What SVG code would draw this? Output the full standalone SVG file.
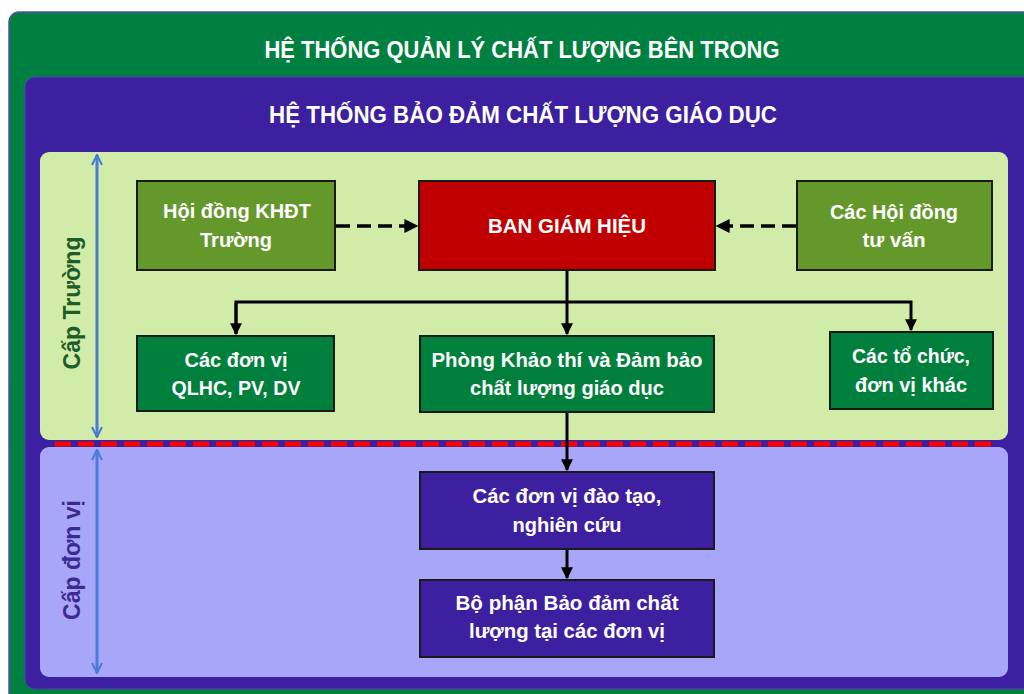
<svg xmlns="http://www.w3.org/2000/svg" width="1024" height="694" viewBox="0 0 1024 694">
<defs>
<style>
.t{font-family:"Liberation Sans",Arial,sans-serif;font-weight:bold;fill:#fff;text-anchor:middle}
.n{font-size:20px}
.h{font-size:23px}
.node{stroke:#1a1a1a;stroke-width:2}
.olive{fill:#64982a}
.red{fill:#c00000}
.dg{fill:#00803c}
.pu{fill:#3c20a0}
.con{fill:none;stroke:#000;stroke-width:3}
.dash{stroke-dasharray:14 7;stroke-width:3.5}
.lvl{fill:none;stroke:#4a7cd4;stroke-width:3}
.side{font-family:"Liberation Sans",Arial,sans-serif;font-weight:bold;font-size:23px;text-anchor:middle}
</style>
<marker id="ah" viewBox="0 0 10 10" refX="9" refY="5" markerWidth="4" markerHeight="4" orient="auto" markerUnits="strokeWidth">
<path d="M0,0 L10,5 L0,10 z" fill="#000"/>
</marker>
<marker id="bh" viewBox="0 0 12 12" refX="11" refY="6" markerWidth="4" markerHeight="4" orient="auto-start-reverse" markerUnits="strokeWidth">
<path d="M1,1 L11,6 L1,11" fill="none" stroke="#4a7cd4" stroke-width="2"/>
</marker>
</defs>

<g id="frame">
<rect x="9" y="12" width="1030" height="700" rx="10" fill="#008040" stroke="#5a4ca8" stroke-width="1.5"/>
<text class="t h" x="522" y="58" textLength="515" lengthAdjust="spacingAndGlyphs">HỆ THỐNG QUẢN LÝ CHẤT LƯỢNG BÊN TRONG</text>
<rect x="25" y="77" width="1010" height="612" rx="10" fill="#3c20a0" stroke="#5040b0" stroke-width="1"/>
<text class="t h" x="523" y="123" textLength="508" lengthAdjust="spacingAndGlyphs">HỆ THỐNG BẢO ĐẢM CHẤT LƯỢNG GIÁO DỤC</text>
<rect x="40" y="152" width="968" height="288" rx="9" fill="#d0eca8"/>
<rect x="40" y="447" width="968" height="230" rx="9" fill="#a8a6f8"/>
<line x1="55" y1="444" x2="998" y2="444" stroke="#ff0000" stroke-width="5" stroke-dasharray="16 7"/>
</g>

<g id="levels">
<line class="lvl" x1="97" y1="155" x2="97" y2="437" marker-start="url(#bh)" marker-end="url(#bh)"/>
<line class="lvl" x1="97" y1="450" x2="97" y2="673" marker-start="url(#bh)" marker-end="url(#bh)"/>
<text class="side" x="0" y="0" transform="translate(80,303) rotate(-90)" fill="#1e5c28" textLength="133" lengthAdjust="spacingAndGlyphs">Cấp Trường</text>
<text class="side" x="0" y="0" transform="translate(80,560) rotate(-90)" fill="#3c2a90" textLength="120" lengthAdjust="spacingAndGlyphs">Cấp đơn vị</text>
</g>

<g id="connectors">
<line class="con dash" x1="336" y1="226" x2="417" y2="226" marker-end="url(#ah)"/>
<line class="con dash" x1="796" y1="226" x2="717" y2="226" marker-end="url(#ah)"/>
<line class="con" x1="567" y1="271" x2="567" y2="334" marker-end="url(#ah)"/>
<polyline class="con" points="236,334 236,302 911,302 911,330" marker-end="url(#ah)"/>
<line class="con" x1="236" y1="303" x2="236" y2="334" marker-end="url(#ah)"/>
<line class="con" x1="567" y1="412" x2="567" y2="470" marker-end="url(#ah)"/>
<line class="con" x1="567" y1="549" x2="567" y2="578" marker-end="url(#ah)"/>
</g>

<g id="hoidong-khdt">
<rect class="node olive" x="137" y="181" width="198" height="89"/>
<text class="t n" x="237" y="218" textLength="148" lengthAdjust="spacingAndGlyphs">Hội đồng KHĐT</text>
<text class="t n" x="236" y="247" textLength="72" lengthAdjust="spacingAndGlyphs">Trường</text>
</g>
<g id="ban-giam-hieu">
<rect class="node red" x="419" y="181" width="296" height="89"/>
<text class="t n" x="567" y="233" textLength="158" lengthAdjust="spacingAndGlyphs">BAN GIÁM HIỆU</text>
</g>
<g id="hoidong-tuvan">
<rect class="node olive" x="797" y="181" width="195" height="89"/>
<text class="t n" x="894" y="219" textLength="128" lengthAdjust="spacingAndGlyphs">Các Hội đồng</text>
<text class="t n" x="894" y="247" textLength="63" lengthAdjust="spacingAndGlyphs">tư vấn</text>
</g>
<g id="qlhc">
<rect class="node dg" x="137" y="336" width="197" height="75"/>
<text class="t n" x="236" y="367" textLength="103" lengthAdjust="spacingAndGlyphs">Các đơn vị</text>
<text class="t n" x="236" y="395" textLength="129" lengthAdjust="spacingAndGlyphs">QLHC, PV, DV</text>
</g>
<g id="phong-khao-thi">
<rect class="node dg" x="420" y="336" width="294" height="76"/>
<text class="t n" x="567" y="367" textLength="271" lengthAdjust="spacingAndGlyphs">Phòng Khảo thí và Đảm bảo</text>
<text class="t n" x="567" y="395" textLength="194" lengthAdjust="spacingAndGlyphs">chất lượng giáo dục</text>
</g>
<g id="to-chuc-khac">
<rect class="node dg" x="830" y="332" width="163" height="77"/>
<text class="t n" x="911" y="363" textLength="118" lengthAdjust="spacingAndGlyphs">Các tổ chức,</text>
<text class="t n" x="911" y="392" textLength="112" lengthAdjust="spacingAndGlyphs">đơn vị khác</text>
</g>
<g id="dao-tao">
<rect class="node pu" x="420" y="472" width="294" height="77"/>
<text class="t n" x="567" y="503" textLength="189" lengthAdjust="spacingAndGlyphs">Các đơn vị đào tạo,</text>
<text class="t n" x="567" y="532" textLength="109" lengthAdjust="spacingAndGlyphs">nghiên cứu</text>
</g>
<g id="bo-phan">
<rect class="node pu" x="420" y="580" width="294" height="77"/>
<text class="t n" x="567" y="610" textLength="223" lengthAdjust="spacingAndGlyphs">Bộ phận Bảo đảm chất</text>
<text class="t n" x="567" y="638" textLength="196" lengthAdjust="spacingAndGlyphs">lượng tại các đơn vị</text>
</g>
</svg>
